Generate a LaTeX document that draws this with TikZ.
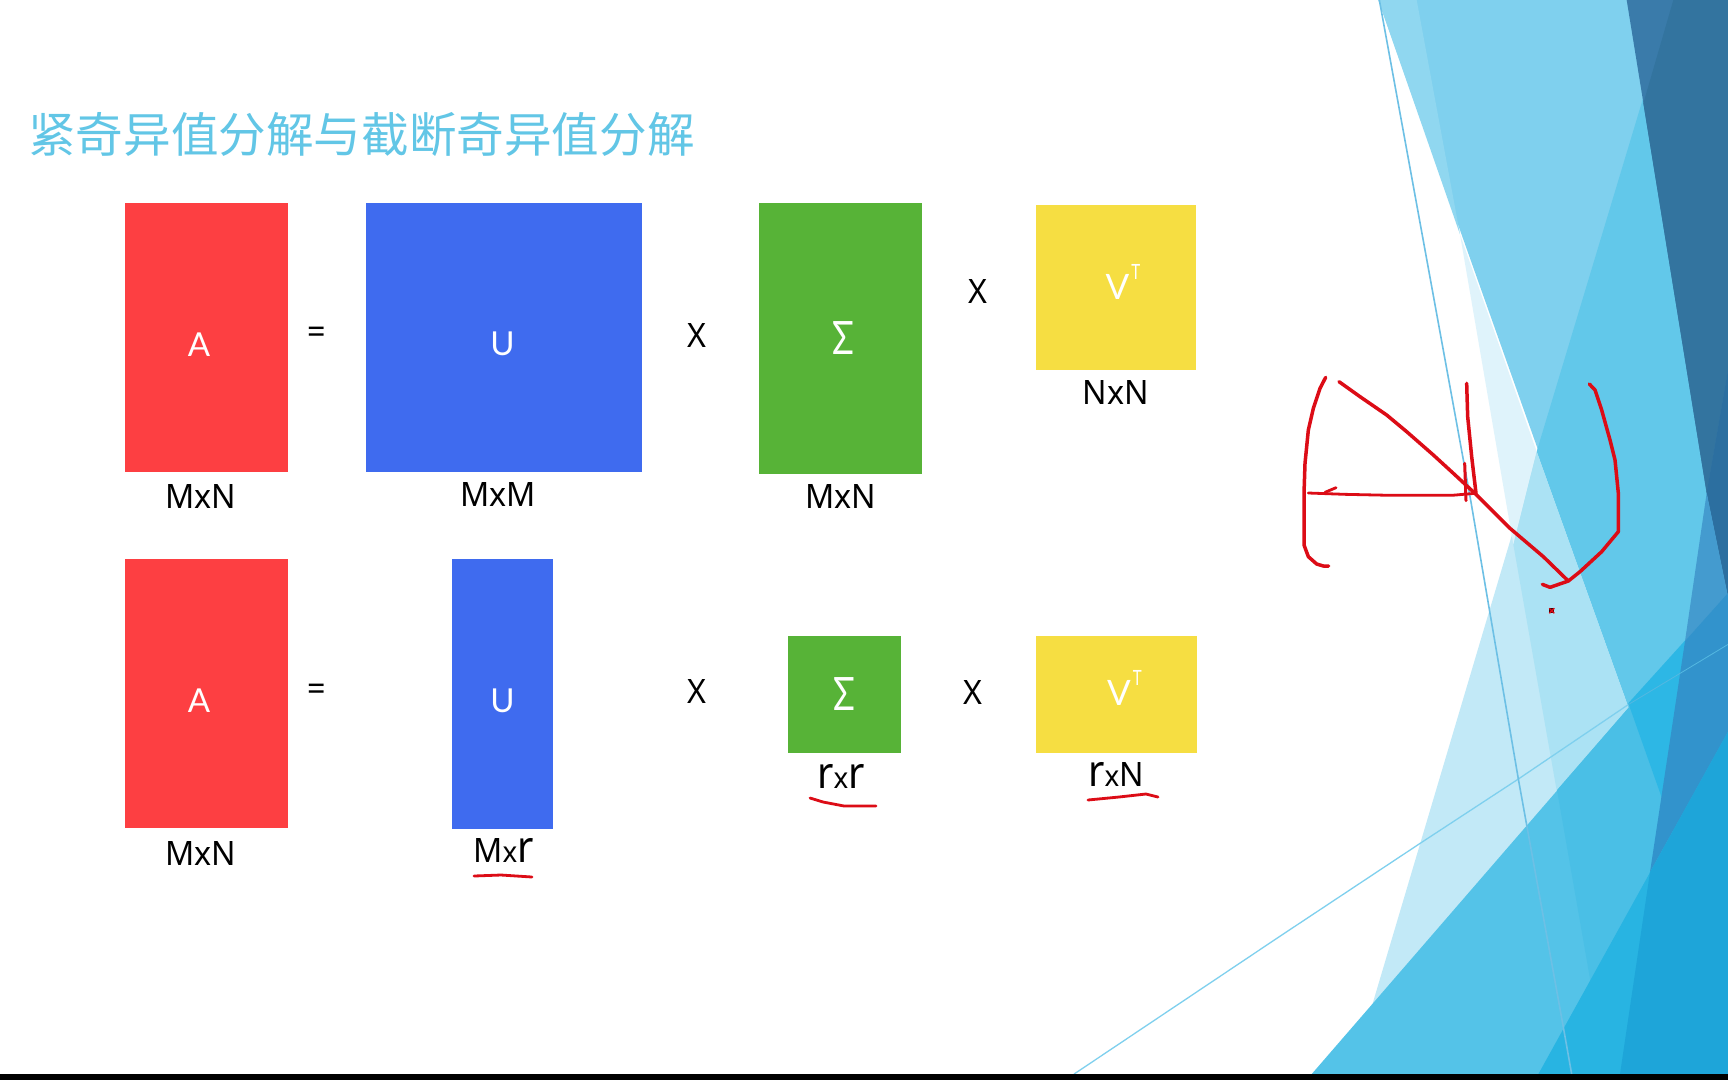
\documentclass[tikz,border=0pt]{standalone}
\usepackage{fontspec}
\setmainfont{Noto Sans}
\newfontfamily\cjkfont{Noto Sans CJK SC}
\newfontfamily\dimfont[FakeStretch=0.96]{Noto Sans}
\newfontfamily\tallfont[FakeStretch=0.9]{Noto Sans}
\newfontfamily\lightfont{Lato}
\definecolor{tred}{HTML}{FD3F42}
\definecolor{tblue}{HTML}{3F6BEF}
\definecolor{tgreen}{HTML}{57B337}
\definecolor{tyellow}{HTML}{F6DE42}
\definecolor{ink}{HTML}{DC0C16}
\definecolor{titlec}{HTML}{62C6E6}
\definecolor{a1}{HTML}{7FD0EE}\definecolor{a2}{HTML}{90D7F0}\definecolor{a3}{HTML}{C2E9F7}
\definecolor{a4}{HTML}{62C8EA}\definecolor{a5}{HTML}{DFF3FB}\definecolor{a6}{HTML}{ABE2F4}
\definecolor{a7}{HTML}{54C3E8}\definecolor{a8}{HTML}{4ABFE6}\definecolor{a9}{HTML}{2DB7E5}
\definecolor{b1}{HTML}{28B4E2}\definecolor{b2}{HTML}{3A7BAA}\definecolor{b3}{HTML}{33749F}
\definecolor{b4}{HTML}{2C6FA0}\definecolor{b5}{HTML}{449BCF}\definecolor{b6}{HTML}{3293CC}
\definecolor{b7}{HTML}{1EA5D9}
\tikzset{
  box/.style={draw=none,inner sep=0pt,outer sep=0pt},
  inbox/.style={text=white,inner sep=0pt,anchor=base,font=\lightfont\fontsize{33}{36}\selectfont},
  sigma/.style={text=white,inner sep=0pt,font=\lightfont\fontsize{46}{50}\selectfont},
  vt/.style={text=white,inner sep=0pt,anchor=base west,font=\lightfont\fontsize{35}{38}\selectfont},
  dim/.style={text=black,inner sep=0pt,anchor=base,font=\dimfont\fontsize{33.6}{36}\selectfont},
  op/.style={text=black,inner sep=0pt,font=\dimfont\fontsize{33.6}{38}\selectfont},
  scrawl/.style={draw=ink,line width=3.5pt,line cap=round,line join=round},
  thinline/.style={line width=1.6pt,draw=#1},
  bg/.style={xshift=1280pt,x=0.33333pt,y=-0.68939pt},
  ink zoom/.style={xshift=1280pt,yshift=-360pt,x=0.33333pt,y=-0.33333pt}
}
\newcommand{\tallr}{{\tallfont\fontsize{44}{44}\selectfont r}}
\newcommand{\smx}{{\dimfont\fontsize{29}{30}\selectfont x}}
\newcommand{\supT}{\hspace{2pt}\raisebox{20pt}{\scalebox{0.72}[1]{\fontsize{21}{21}\selectfont T}}}
\begin{document}
\begin{tikzpicture}[x=1pt,y=-1pt]
\useasboundingbox (0,0) rectangle (1728,1080);
\fill[white] (0,0) rectangle (1728,1080);
\begin{scope}[bg]
 \fill[a1] (295,0) -- (1350,0) -- (1350,1437) -- cycle;
 \fill[a2] (295,0) -- (410,0) -- (540,340) -- cycle;
 % translucent triangle over white
 \fill[a3] (770,655) -- (215,1558) -- (1350,1558) -- (1350,1437) -- cycle;
 \fill[a4] (1130,77) -- (770,655) -- (1350,1437) -- (1350,77) -- cycle;
 \fill[a5] (540,340) -- (770,655) -- (700,790) -- cycle;
 \fill[a6] (700,790) -- (770,655) -- (1350,1437) -- (1350,1558) -- (980,1558) -- cycle;
 % bottom wedge
 \fill[a7] (95,1558) -- (1350,857) -- (1350,1558) -- cycle;
 \fill[a8] (831,1146) -- (1350,857) -- (1350,1558) -- (980,1558) -- cycle;
 \fill[a9] (1045,1020) -- (1350,857) -- (1350,1437) -- cycle;
 \fill[b1] (775,1558) -- (1350,1056) -- (1350,1558) -- cycle;
 % dark band
 \fill[b2] (1040,0) -- (1350,0) -- (1350,880) -- (1280,715) -- cycle;
 \fill[b3] (1180,0) -- (1350,0) -- (1350,520) -- (1280,715) -- (1090,150) -- cycle;
 \fill[b4] (1280,715) -- (1350,520) -- (1350,880) -- cycle;
 \fill[b5] (1280,715) -- (1345,868) -- (1215,930) -- cycle;
 \fill[b6] (1215,930) -- (1350,857) -- (1350,1056) -- (1110,1265) -- cycle;
 \fill[b7] (1110,1265) -- (1350,1056) -- (1350,1558) -- (1020,1558) -- cycle;
 % thin facet lines
 \draw[thinline=a1,line width=1.3pt] (-618,1558) -- (0,1358) -- (415,1225) -- (715,1130) -- (1045,1022);
 \draw[a4!70!b6,line width=0.8pt] (1045,1022) -- (1350,933);
 \draw[thinline=a1!70!b5] (298,0) -- (570,720) -- (715,1130) -- (850,1490) -- (875,1558);
\end{scope}
% red scribble
\begin{scope}[ink zoom]
 \draw[scrawl] (137,52) -- (120,85) -- (100,145) -- (85,210) -- (75,310) -- (72,400) -- (72,555) -- (85,590) -- (110,612) -- (130,618) -- (146,618);
 \draw[scrawl] (177,65) -- (240,110) -- (320,165) -- (380,215) -- (460,285) -- (520,340) -- (590,405) -- (690,505) -- (790,590) -- (865,663);
 \draw[scrawl] (928,72) -- (945,90) -- (965,150) -- (990,240) -- (1005,300) -- (1015,400) -- (1015,515) -- (965,575) -- (900,635) -- (865,663) -- (810,682) -- (787,673);
 \draw[scrawl,line width=2.8pt] (85,399) -- (195,403) -- (335,406) -- (515,406) -- (585,400);
 \draw[scrawl,line width=2.8pt] (135,397) -- (168,383);
 \draw[scrawl] (560,70) -- (563,170) -- (575,290) -- (588,400);
 \draw[scrawl,line width=3pt] (554,310) -- (558,422);
 \fill[black!75!ink] (808,745) rectangle (823,760);
 \draw[ink,line width=1.4pt] (808,745) -- (823,760) (808,760) -- (823,745);
\end{scope}
% title
\node[inner sep=0pt,anchor=west,text=titlec,font=\cjkfont\fontsize{47.6}{50}\selectfont] (title) at (28,134) {紧奇异值分解与截断奇异值分解};
% row 1
\node[box,fill=tred,minimum width=163pt,minimum height=269pt] (r1a) at (206,337.2) {};
\node[box,fill=tblue,minimum width=276pt,minimum height=269pt] (r1u) at (504,337.2) {};
\node[box,fill=tgreen,minimum width=163pt,minimum height=271pt] (r1s) at (840.5,338.5) {};
\node[box,fill=tyellow,minimum width=160pt,minimum height=165pt] (r1v) at (1115.5,287.5) {};
% row 2
\node[box,fill=tred,minimum width=163pt,minimum height=269pt] (r2a) at (206,693.5) {};
\node[box,fill=tblue,minimum width=101pt,minimum height=270pt] (r2u) at (502.5,694) {};
\node[box,fill=tgreen,minimum width=113pt,minimum height=117pt] (r2s) at (844.5,694.5) {};
\node[box,fill=tyellow,minimum width=161pt,minimum height=117pt] (r2v) at (1116,694.5) {};
% inner letters
\node[inbox] (la1) at (199,356) {A};
\node[inbox] (lu1) at (502.5,355.5) {U};
\node[sigma] (ls1) at (843.3,338.5) {\scalebox{0.78}[1]{Σ}};
\node[vt] (lv1) at (1105.5,299) {V\supT};
\node[inbox] (la2) at (199,712.5) {A};
\node[inbox] (lu2) at (502.5,712.5) {U};
\node[sigma] (ls2) at (844.6,694.3) {\scalebox{0.78}[1]{Σ}};
\node[vt] (lv2) at (1107,705) {V\supT};
% operators
\node[op] (eq1) at (317,335.5) {=};
\node[op] (x1) at (697,335) {X};
\node[op] (x2) at (977.5,291) {X};
\node[op] (eq2) at (317,692) {=};
\node[op] (x3) at (697,691) {X};
\node[op] (x4) at (973,692) {X};
% dimensions
\node[dim] (d1) at (200.5,508) {MxN};
\node[dim] (d2) at (498,506) {MxM};
\node[dim] (d3) at (840.5,508) {MxN};
\node[dim] (d4) at (1116,404) {NxN};
\node[dim] (d5) at (200.5,865) {MxN};
\node[dim] (d6) at (503.6,862) {M\smx\tallr};
\node[dim] (d7) at (841,788) {\tallr\smx\tallr};
\node[dim] (d8) at (1116,786) {\tallr\smx{}N};
% underlines
\draw[scrawl,line width=2.8pt] (474,876) -- (501,875) -- (532,877);
\draw[scrawl,line width=2.8pt] (810,798) -- (823,802) -- (844,806) -- (876,806);
\draw[scrawl,line width=2.8pt] (1088,800) -- (1119,797) -- (1146,794) -- (1158,797);
% black bar
\fill[black] (0,1074) rectangle (1728,1080);
\end{tikzpicture}
\end{document}
